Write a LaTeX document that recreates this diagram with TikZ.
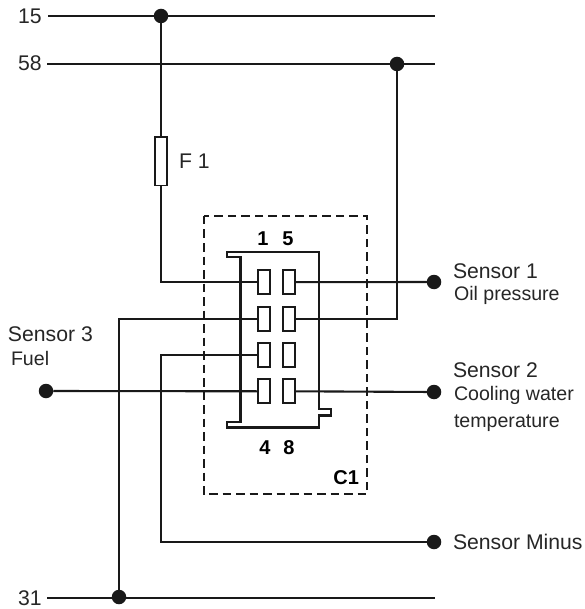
\documentclass[tikz,border=0pt]{standalone}
\usepackage{fontspec}
\setmainfont{Liberation Sans}
\tikzset{
  x=1pt,y=-1pt,
  wire/.style={line width=2.1pt,black!90},
  lbl/.style={anchor=base west,inner sep=0pt,outer sep=0pt,text=black!85,font=\fontsize{21.2}{22}\selectfont},
  sublbl/.style={lbl,font=\fontsize{19.6}{22}\selectfont},
  pinlbl/.style={anchor=base,inner sep=0pt,outer sep=0pt,font=\fontsize{20}{20}\selectfont\bfseries},
  dot/.style={circle,fill=black!90,draw=none,minimum size=14.5pt,inner sep=0pt,outer sep=0pt},
  pinbox/.style={rectangle,draw=black!90,line width=2.2pt,fill=white,minimum width=12pt,minimum height=24pt,inner sep=0pt,outer sep=0pt},
  fusebox/.style={rectangle,draw=black!90,line width=1.8pt,fill=white,minimum width=12pt,minimum height=48.5pt,inner sep=0pt,outer sep=0pt},
  shell/.style={line width=2.5pt,draw=black!90,line join=miter},
  frame/.style={line width=2pt,draw=black!90,dash pattern=on 8.5pt off 5pt},
}
\begin{document}
\begin{tikzpicture}
\useasboundingbox (0,0) rectangle (584,609);
% free ends and corners
\coordinate (a15) at (48,16);   \coordinate (b15) at (435,16);
\coordinate (a58) at (47,64);   \coordinate (b58) at (435,64);
\coordinate (a31) at (47,598);  \coordinate (b31) at (435,598);
% junctions and terminals
\node[dot] (j15) at (161,16) {};
\node[dot] (j58) at (397,64) {};
\node[dot] (j31) at (119,597) {};
\node[dot] (s1) at (434,282) {};
\node[dot] (s2) at (434,392) {};
\node[dot] (s3) at (46,391) {};
\node[dot] (sm) at (434,542) {};
% buses
\draw[wire] (a15) -- (b15);
\draw[wire] (a58) -- (b58);
\draw[wire] (a31) -- (b31);
% frame and connector shell
\draw[frame] (203.5,216) rectangle (367,494);
\draw[shell] (227,252) -- (319,252) -- (319,409) -- (331,409) -- (331,415.5) -- (319,415.5) -- (319,427.5) -- (227,427.5) -- (227,422) -- (240.5,422) -- (240.5,257) -- (227,257) -- cycle;
% pins
\node[pinbox] (p1) at (264.3,282.2) {};
\node[pinbox] (p2) at (264.3,318.8) {};
\node[pinbox] (p3) at (264.3,355) {};
\node[pinbox] (p4) at (264.3,391.3) {};
\node[pinbox] (p5) at (288.8,282.2) {};
\node[pinbox] (p6) at (288.8,318.8) {};
\node[pinbox] (p7) at (288.8,355) {};
\node[pinbox] (p8) at (288.8,391.3) {};
% fuse
\node[fusebox] (f1) at (161,161.2) {};
% connectors
\draw[wire] (j15) -- (f1.north);
\draw[wire] (f1.south) |- (p1.west);
\draw[wire] (p5.east) -- (s1);
\draw[wire] (p6.east) -| (j58);
\draw[wire] (j31) |- (p2.west);
\draw[wire] (p3.west) -| (161,542) -- (sm);
\draw[wire] (s3) -- (p4.west);
\draw[wire] (p8.east) -- (s2);
% labels
\node[lbl] (t15) at (18,24) {15};
\node[lbl] (t58) at (18,71) {58};
\node[lbl] (t31) at (18,605) {31};
\node[lbl] (tf) at (179,169) {F 1};
\node[lbl] (ts1) at (453,278) {Sensor 1};
\node[sublbl] (to) at (454,300) {Oil pressure};
\node[lbl] (ts3) at (8,341) {Sensor 3};
\node[sublbl] (tfu) at (11,365) {Fuel};
\node[lbl] (ts2) at (453,377) {Sensor 2};
\node[sublbl] (tc) at (454,400) {Cooling water};
\node[sublbl] (tt) at (454,427) {temperature};
\node[lbl] (tm) at (453,549) {Sensor Minus};
\node[pinlbl] (n1) at (263,245) {1};
\node[pinlbl] (n5) at (288,245) {5};
\node[pinlbl] (n4) at (265,454) {4};
\node[pinlbl] (n8) at (289,454) {8};
\node[pinlbl,anchor=base east] (c1) at (359,484) {C1};
\end{tikzpicture}
\end{document}
